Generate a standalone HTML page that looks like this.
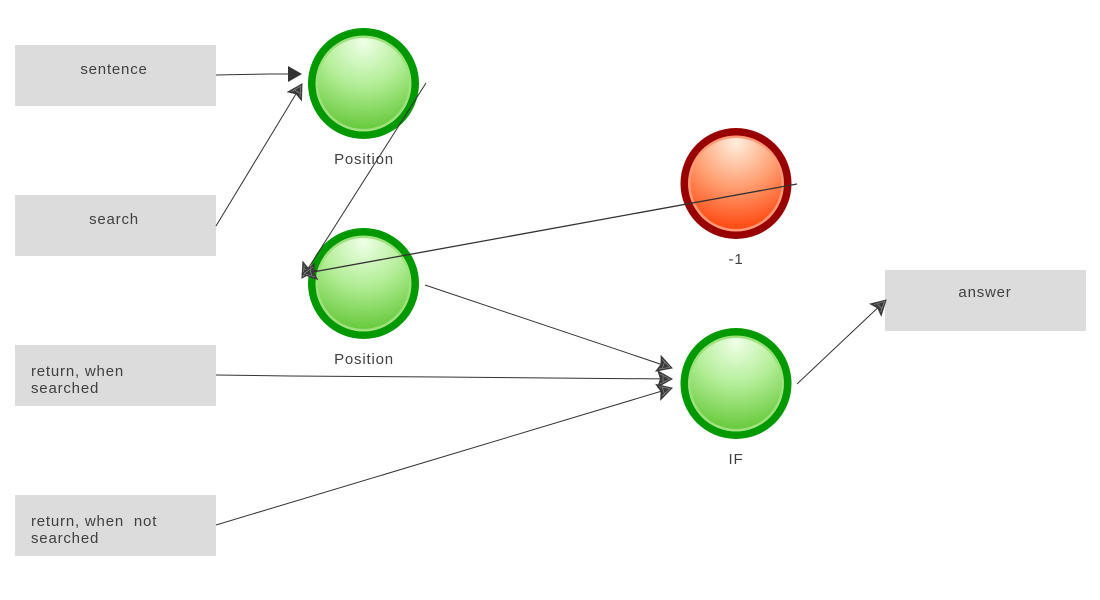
<!DOCTYPE html>
<html>
<head>
<meta charset="utf-8">
<style>
html,body{margin:0;padding:0;background:#fff;}
svg{display:block;}
text{font-family:"Liberation Sans",sans-serif;font-size:15px;fill:#404040;letter-spacing:0.8px;}
</style>
</head>
<body>
<svg width="1100" height="600" viewBox="0 0 1100 600" xmlns="http://www.w3.org/2000/svg">
<defs>
  <radialGradient id="gG" cx="50%" cy="8%" r="100%" fx="50%" fy="5%">
    <stop offset="0" stop-color="#eeffe6"/>
    <stop offset="0.45" stop-color="#b4ee98"/>
    <stop offset="1" stop-color="#5cc42e"/>
  </radialGradient>
  <radialGradient id="gR" cx="50%" cy="8%" r="100%" fx="50%" fy="5%">
    <stop offset="0" stop-color="#ffeede"/>
    <stop offset="0.45" stop-color="#ffa275"/>
    <stop offset="1" stop-color="#ff3a00"/>
  </radialGradient>
  <marker id="aS" viewBox="0 0 14 16" refX="13" refY="8" markerWidth="14" markerHeight="16" markerUnits="userSpaceOnUse" orient="auto">
    <path d="M0,0 L14,8 L0,16 z" fill="#333"/>
  </marker>
  <marker id="aH" viewBox="0 0 16 18" refX="15" refY="9" markerWidth="16" markerHeight="18" markerUnits="userSpaceOnUse" orient="auto">
    <path d="M0,0 L16,9 L0,18 L3,9 z" fill="#3a3a3a"/>
    <path d="M3,4 L13,9 M3,14 L13,9 M6,6 L6,12" stroke="#999" stroke-width="0.6"/>
  </marker>
</defs>

<!-- boxes -->
<rect x="15" y="45" width="201" height="61" fill="#dcdcdc"/>
<rect x="15" y="195" width="201" height="61" fill="#dcdcdc"/>
<rect x="15" y="345" width="201" height="61" fill="#dcdcdc"/>
<rect x="15" y="495" width="201" height="61" fill="#dcdcdc"/>
<rect x="885" y="270" width="201" height="61" fill="#dcdcdc"/>

<text x="114" y="74" text-anchor="middle">sentence</text>
<text x="114" y="224" text-anchor="middle">search</text>
<text x="31" y="376">return, when</text>
<text x="31" y="393">searched</text>
<text x="31" y="526">return, when&#160; not</text>
<text x="31" y="543">searched</text>
<text x="985" y="297" text-anchor="middle">answer</text>

<!-- circles -->
<g>
  <circle cx="363.5" cy="83.5" r="55.5" fill="#009900"/>
  <circle cx="363.5" cy="83.5" r="48" fill="#9fe07f"/>
  <circle cx="363.5" cy="83.5" r="45.5" fill="url(#gG)"/>
</g>
<g>
  <circle cx="363.5" cy="283.5" r="55.5" fill="#009900"/>
  <circle cx="363.5" cy="283.5" r="48" fill="#9fe07f"/>
  <circle cx="363.5" cy="283.5" r="45.5" fill="url(#gG)"/>
</g>
<g>
  <circle cx="736" cy="183.5" r="55.5" fill="#990000"/>
  <circle cx="736" cy="183.5" r="48" fill="#ff9a78"/>
  <circle cx="736" cy="183.5" r="45.5" fill="url(#gR)"/>
</g>
<g>
  <circle cx="736" cy="383.5" r="55.5" fill="#009900"/>
  <circle cx="736" cy="383.5" r="48" fill="#9fe07f"/>
  <circle cx="736" cy="383.5" r="45.5" fill="url(#gG)"/>
</g>

<text x="364" y="164" text-anchor="middle">Position</text>
<text x="364" y="364" text-anchor="middle">Position</text>
<text x="736" y="264" text-anchor="middle">-1</text>
<text x="736" y="464" text-anchor="middle">IF</text>

<!-- connectors -->
<g stroke="#333" stroke-width="1" fill="none">
  <polyline points="216,75 270,74 301,74" marker-end="url(#aS)"/>
  <line x1="216" y1="226" x2="302" y2="84" marker-end="url(#aH)"/>
  <line x1="426" y1="83" x2="302" y2="278" marker-end="url(#aH)"/>
  <line x1="797" y1="184" x2="302" y2="274" stroke-width="1.3" marker-end="url(#aH)"/>
  <line x1="425" y1="285" x2="672" y2="368" marker-end="url(#aH)"/>
  <polyline points="216,375 290,376 440,377 672,379" marker-end="url(#aH)"/>
  <line x1="216" y1="525" x2="672" y2="388" marker-end="url(#aH)"/>
  <line x1="797" y1="384" x2="886" y2="300" marker-end="url(#aH)"/>
</g>
</svg>
</body>
</html>
